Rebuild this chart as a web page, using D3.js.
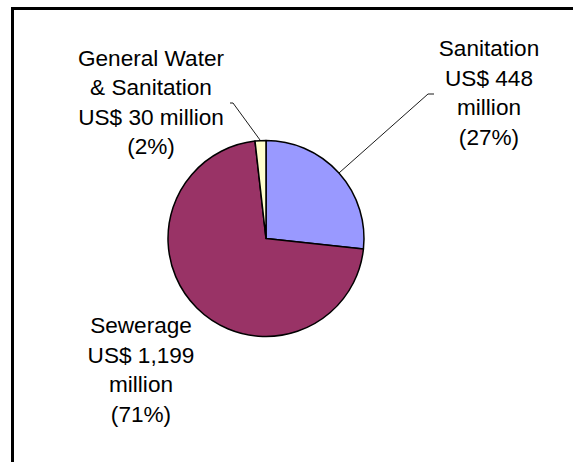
<!DOCTYPE html>
<html lang="en">
	<head>
		<meta charset="utf-8">
		<title>pie</title>
		<script type="text/javascript" src="https://d3js.org/d3.v7.min.js"></script>
		<style type="text/css">
			body {
				margin: 0;
				background: #fff;
			}
			.Label text {
				font-family: "Liberation Sans", Arial, sans-serif;
				font-size: 22.6px;
				fill: #000;
			}
		</style>
	</head>
	<body>
		<div class="Robb"></div>

		<script type="text/javascript">
			// data
			var categories = ["Sanitation", "Sewerage", "General Water & Sanitation"];
			var values = [448, 1199, 30];           // US$ million
			var colors = ["#9999FF", "#993366", "#FFFFCC"];
			var labelLines = [
				["Sanitation", "US$ 448", "million", "(27%)"],
				["Sewerage", "US$ 1,199", "million", "(71%)"],
				["General Water", "& Sanitation", "US$ 30 million", "(2%)"]
			];

			const w = 573,
				  h = 462,
				  cx = 266,
				  cy = 238.5,
				  r = 98,
				  lineGap = 29.5;

			// where each label block sits (center x, first baseline)
			var labelPos = [[489, 56], [141, 333], [151, 65.5]];
			// leader elbows (only for slices that have one)
			var leaders = [
				{i: 0, elbow: [428, 94], end: [434, 94]},
				{i: 2, elbow: [233, 103], end: [230, 103]}
			];

			var svg = d3.select(".Robb")
						.append("svg")
						.attr("width", w)
						.attr("height", h)
						.attr("display", "block");

			// chart frame, runs off the right/bottom edge
			svg.append("rect")
				.attr("x", 12.5)
				.attr("y", 8.5)
				.attr("width", 600)
				.attr("height", 500)
				.attr("fill", "none")
				.attr("stroke", "#000")
				.attr("stroke-width", 3);

			var pie = d3.pie().sort(null).value(d => d);
			var arcs = pie(values);

			var arc = d3.arc().innerRadius(0).outerRadius(r);

			var g = svg.append("g")
				.attr("transform", "translate(" + cx + "," + cy + ")");

			g.selectAll("path")
				.data(arcs)
				.enter()
				.append("path")
				.attr("d", arc)
				.attr("fill", (d, i) => colors[i])
				.attr("stroke", "#000")
				.attr("stroke-width", 1.5)
				.attr("stroke-linejoin", "round");

			// leader lines from slice mid-angle on the rim
			svg.append("g")
				.selectAll("polyline")
				.data(leaders)
				.enter()
				.append("polyline")
				.attr("points", function(d) {
					var a = arcs[d.i];
					var mid = (a.startAngle + a.endAngle) / 2;
					var sx = cx + r * Math.sin(mid),
						sy = cy - r * Math.cos(mid);
					return [[sx, sy], d.elbow, d.end].map(p => p.join(",")).join(" ");
				})
				.attr("fill", "none")
				.attr("stroke", "#000")
				.attr("stroke-width", 0.9);

			var labels = svg.append("g")
				.attr("class", "Label")
				.selectAll("text")
				.data(categories)
				.enter()
				.append("text")
				.attr("text-anchor", "middle")
				.attr("x", (d, i) => labelPos[i][0])
				.attr("y", (d, i) => labelPos[i][1]);

			labels.selectAll("tspan")
				.data((d, i) => labelLines[i].map(t => ({t: t, i: i})))
				.enter()
				.append("tspan")
				.attr("x", d => labelPos[d.i][0])
				.attr("y", (d, j) => labelPos[d.i][1] + j * lineGap)
				.text(d => d.t);
		</script>
	</body>
</html>
